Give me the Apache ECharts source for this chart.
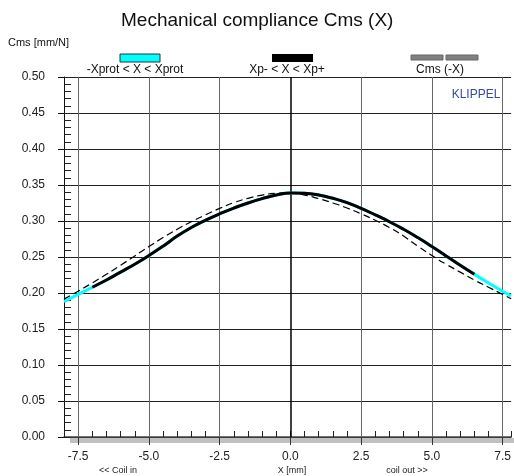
<!DOCTYPE html>
<html>
<head>
<meta charset="utf-8">
<script src="https://cdn.jsdelivr.net/npm/echarts@6/dist/echarts.min.js"></script>
<style>
  html, body { margin: 0; padding: 0; background: #fff; }
  #chart { width: 514px; height: 476px; }
</style>
</head>
<body>
<div id="chart"></div>
<script>
// displacement X [mm]
const xValues = [-8, -7.5, -7, -6.5, -6, -5.5, -5, -4.5, -4, -3.5, -3, -2.5, -2, -1.5, -1, -0.5,
  0, 0.5, 1, 1.5, 2, 2.5, 3, 3.5, 4, 4.5, 5, 5.5, 6, 6.5, 7, 7.5, 7.8]
// Cms(X) [mm/N]
const cmsValues = [0.188, 0.198, 0.208, 0.218, 0.229, 0.240, 0.252, 0.265, 0.279, 0.291, 0.301, 0.310,
  0.318, 0.325, 0.331, 0.336, 0.339, 0.3385, 0.336, 0.3315, 0.3255, 0.3175, 0.3085, 0.299, 0.2885,
  0.277, 0.2645, 0.2515, 0.2385, 0.226, 0.214, 0.2025, 0.196]
// Cms(-X) [mm/N]
const cmsMirror = [0.1915, 0.2025, 0.214, 0.226, 0.2385, 0.2515, 0.2645, 0.277, 0.2885, 0.299, 0.3085,
  0.3175, 0.3255, 0.3315, 0.336, 0.3385, 0.339, 0.336, 0.331, 0.325, 0.318, 0.310, 0.301, 0.291, 0.279,
  0.265, 0.252, 0.240, 0.229, 0.218, 0.208, 0.198, 0.192]
// working range Xp- .. Xp+
const xpRange = [-7, 6.5]
const xTicks = [-7.5, -5, -2.5, 0, 2.5, 5, 7.5]

const font = 'Liberation Sans, Arial, sans-serif'

function pairs(ys, filter) {
  let arr = []
  for (let i = 0; i < xValues.length; i++) {
    if (!filter || (xValues[i] >= filter[0] && xValues[i] <= filter[1])) {
      arr.push([xValues[i], ys[i]])
    }
  }
  return arr
}

let gridLines = xTicks.map(v => ({
  xAxis: v,
  lineStyle: {color: v === 0 ? '#000' : '#666', width: v === 0 ? 1.5 : 1, type: 'solid'}
}))

let option = {
  animation: false,
  textStyle: {fontFamily: font},
  grid: {left: 64, right: 0, top: 77, bottom: 39},
  xAxis: [{
    type: 'value',
    min: -8,
    max: 7.8,
    axisLine: {onZero: false, lineStyle: {color: '#444', width: 1.5}},
    axisTick: {show: true, length: 8, customValues: xTicks, lineStyle: {color: '#333'}},
    axisLabel: {
      color: '#222', fontSize: 12, margin: 14, customValues: xTicks,
      formatter: v => v.toFixed(1)
    },
    splitLine: {show: false}
  }, {
    type: 'value',
    min: -8,
    max: 7.8,
    interval: 0.5,
    position: 'bottom',
    axisLine: {show: false, onZero: false},
    axisTick: {show: true, inside: true, length: 6, lineStyle: {color: '#222'}},
    axisLabel: {show: false},
    splitLine: {show: false}
  }],
  yAxis: [{
    type: 'value',
    min: 0,
    max: 0.5,
    interval: 0.05,
    axisLine: {show: true, onZero: false, lineStyle: {color: '#111'}},
    axisTick: {show: true, length: 6, lineStyle: {color: '#111'}},
    axisLabel: {color: '#222', fontSize: 12, margin: 19, formatter: v => v.toFixed(2)},
    splitLine: {show: true, lineStyle: {color: '#222', width: 1}}
  }, {
    type: 'value',
    min: 0,
    max: 0.5,
    interval: 0.01,
    position: 'left',
    axisLine: {show: false, onZero: false},
    axisTick: {show: true, inside: true, length: 7, lineStyle: {color: '#222'}},
    axisLabel: {show: false},
    splitLine: {show: false}
  }],
  series: [{
    name: '-Xprot < X < Xprot',
    type: 'line',
    data: pairs(cmsValues),
    smooth: 0.5,
    showSymbol: false,
    lineStyle: {color: '#00ffff', width: 3},
    z: 3,
    markLine: {
      silent: true,
      symbol: 'none',
      label: {show: false},
      z: 1,
      data: gridLines
    }
  }, {
    name: 'Xp- < X < Xp+',
    type: 'line',
    data: pairs(cmsValues, xpRange),
    smooth: 0.5,
    showSymbol: false,
    lineStyle: {color: '#000', width: 3},
    z: 4
  }, {
    name: 'Cms (-X)',
    type: 'line',
    data: pairs(cmsMirror),
    smooth: 0.5,
    showSymbol: false,
    lineStyle: {color: '#000', width: 1.2, type: [7, 4]},
    z: 5
  }],
  graphic: [
    {type: 'rect', z: -1, shape: {x: 70, y: 438, width: 444, height: 5}, style: {fill: '#c0c0c0'}},
    {type: 'text', left: 121, top: 11, style: {text: 'Mechanical compliance Cms (X)', font: '19px ' + font, fill: '#111'}},
    {type: 'text', left: 8, top: 37, style: {text: 'Cms [mm/N]', font: '11px ' + font, fill: '#111'}},
    {type: 'rect', shape: {x: 120, y: 54, width: 40, height: 8}, style: {fill: '#00ffff', stroke: '#333', lineWidth: 1}},
    {type: 'rect', shape: {x: 272, y: 54, width: 41, height: 8}, style: {fill: '#000'}},
    {type: 'rect', shape: {x: 411, y: 55, width: 32, height: 5}, style: {fill: '#808080', stroke: '#666', lineWidth: 1}},
    {type: 'rect', shape: {x: 446, y: 55, width: 32, height: 5}, style: {fill: '#808080', stroke: '#666', lineWidth: 1}},
    {type: 'text', x: 135, y: 70, style: {text: '-Xprot < X < Xprot', font: '12px ' + font, fill: '#111', align: 'center', verticalAlign: 'middle'}},
    {type: 'text', x: 287, y: 70, style: {text: 'Xp- < X < Xp+', font: '12px ' + font, fill: '#111', align: 'center', verticalAlign: 'middle'}},
    {type: 'text', x: 440, y: 70, style: {text: 'Cms (-X)', font: '12px ' + font, fill: '#111', align: 'center', verticalAlign: 'middle'}},
    {type: 'text', x: 476, y: 95, style: {text: 'KLIPPEL', font: '12px ' + font, fill: '#3a4a9c', align: 'center', verticalAlign: 'middle'}},
    {type: 'text', x: 118, y: 471, style: {text: '<< Coil in', font: '9px ' + font, fill: '#222', align: 'center', verticalAlign: 'middle'}},
    {type: 'text', x: 292, y: 471, style: {text: 'X [mm]', font: '9px ' + font, fill: '#222', align: 'center', verticalAlign: 'middle'}},
    {type: 'text', x: 407, y: 471, style: {text: 'coil out >>', font: '9px ' + font, fill: '#222', align: 'center', verticalAlign: 'middle'}}
  ]
}

let myChart = echarts.init(document.getElementById('chart'), null, {renderer: 'canvas'})
myChart.setOption(option)
</script>
</body>
</html>
